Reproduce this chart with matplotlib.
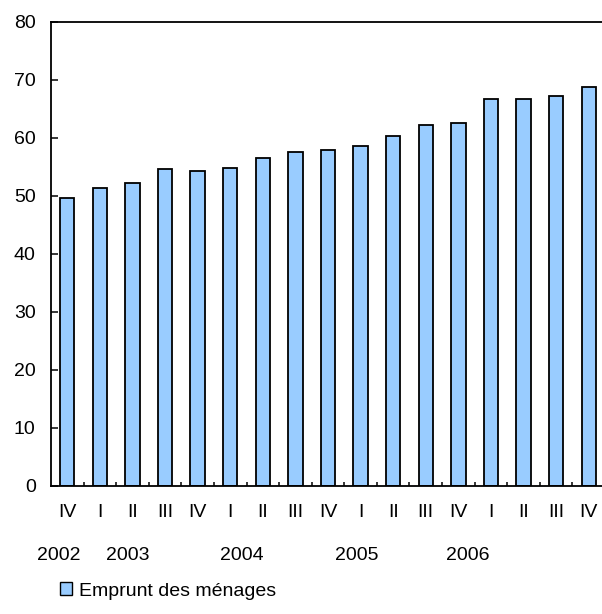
import matplotlib
matplotlib.use("Agg")
import matplotlib.pyplot as plt
from matplotlib.patches import Patch

plt.rcParams['font.family'] = ['Liberation Sans', 'DejaVu Sans']

quarters = ["IV", "I", "II", "III", "IV", "I", "II", "III", "IV",
            "I", "II", "III", "IV", "I", "II", "III", "IV"]
values = [49.7, 51.3, 52.3, 54.6, 54.3, 54.9, 56.6, 57.5, 57.9,
          58.6, 60.3, 62.2, 62.5, 66.8, 66.8, 67.2, 68.8]
years = ["2002", "2003", "2004", "2005", "2006"]
year_pos = [-0.25, 1.87, 5.34, 8.87, 12.3]
series_name = "Emprunt des ménages"

W, H = 602, 614
fig = plt.figure(figsize=(W / 100, H / 100), dpi=100)
ax = fig.add_axes([51 / W, (H - 486) / H, 554 / W, 464 / H])

x = list(range(len(values)))
ax.bar(x, values, width=0.44, color="#99CCFF", edgecolor="black",
       linewidth=1.3, zorder=2)

ax.set_xlim(-0.5, len(values) - 0.5)
ax.set_ylim(0, 80)
ax.set_yticks(range(0, 81, 10))
ax.tick_params(axis="y", direction="in", length=5, width=1.1,
               labelsize=14, pad=11, colors="black")

ax.set_xticks(x)
ax.set_xticklabels(quarters)
ax.tick_params(axis="x", length=0, labelsize=14, pad=13)
ax.set_xticks([i + 0.5 for i in x[:-1]], minor=True)
ax.tick_params(axis="x", which="minor", direction="in", length=3, width=1.1)

for s in ["left", "top", "bottom"]:
    ax.spines[s].set_linewidth(1.3)
ax.spines["right"].set_visible(False)

for yr, xp in zip(years, year_pos):
    ax.text(xp, -11.9, yr, ha="center", va="center", fontsize=14,
            transform=ax.transData, clip_on=False)

handle = Patch(facecolor="#99CCFF", edgecolor="black", linewidth=1.0)
fig.legend([handle], [series_name], loc="center left",
           bbox_to_anchor=(50 / W, (H - 591) / H), frameon=False,
           fontsize=14, handlelength=0.65, handleheight=0.65,
           handletextpad=0.35, borderpad=0)

fig.savefig("out.png", dpi=100)
